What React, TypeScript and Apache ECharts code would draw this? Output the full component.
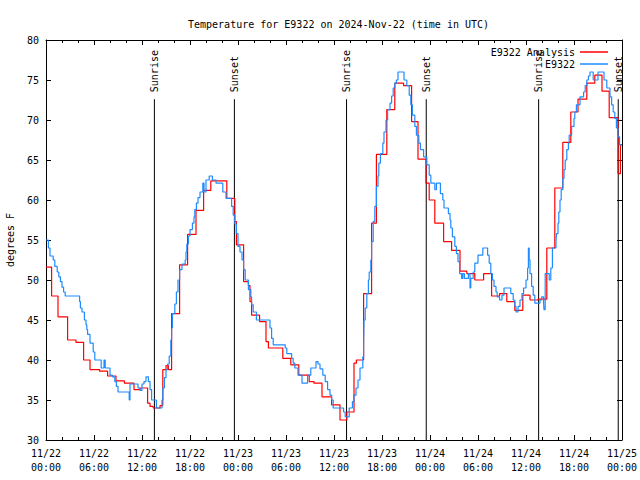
import React, { useEffect, useRef } from "react";
import * as echarts from "echarts";

const TITLE = "Temperature for E9322 on 2024-Nov-22 (time in UTC)";
const SERIES_NAMES = ["E9322 Analysis", "E9322"];
const X_TICK_LABELS = [
  "11/22\n00:00", "11/22\n06:00", "11/22\n12:00", "11/22\n18:00",
  "11/23\n00:00", "11/23\n06:00", "11/23\n12:00", "11/23\n18:00",
  "11/24\n00:00", "11/24\n06:00", "11/24\n12:00", "11/24\n18:00",
  "11/25\n00:00",
];
// hours since 11/22 00:00 UTC
const SUN_HOURS = [13.55, 23.55, 37.57, 47.53, 61.58, 71.53];
const SUN_LABELS = ["Sunrise", "Sunset", "Sunrise", "Sunset", "Sunrise", "Sunset"];

// [hour, degF] — value holds from that hour until the next point
const ANALYSIS: number[][] = [
  [0, 51.6], [0.7, 48.0], [1.5, 45.4], [2.7, 42.5], [3.75, 42.2], [4.7, 40.0],
  [5.5, 38.8], [6.7, 38.6], [7.7, 38.0], [8.75, 37.4], [9.8, 37.1], [11.0, 36.3],
  [11.75, 36.5], [12.7, 34.6], [13.0, 34.2], [13.4, 34.0], [14.25, 34.3], [14.6, 38.8],
  [15.0, 39.3], [15.3, 38.8], [15.7, 45.8], [16.7, 51.9], [17.7, 55.7], [18.75, 58.7],
  [19.7, 61.2], [20.6, 62.4], [22.6, 60.2], [23.6, 57.3], [23.8, 54.4], [24.7, 49.8],
  [25.3, 49.3], [25.5, 47.3], [25.7, 45.6], [26.7, 44.8], [27.5, 42.3], [27.8, 41.5],
  [29.6, 40.2], [30.6, 39.4], [31.6, 38.1], [32.9, 37.3], [33.5, 37.1], [34.5, 35.4],
  [35.7, 34.4], [36.75, 32.5], [37.6, 33.5], [38.5, 39.6], [38.8, 40.0], [39.7, 48.3],
  [40.7, 57.1], [41.3, 65.7], [42.6, 71.3], [43.6, 74.6], [44.7, 74.3], [45.7, 69.8],
  [46.5, 65.1], [47.5, 62.1], [47.9, 60.0], [48.6, 57.1], [49.7, 54.8], [50.7, 53.7],
  [51.75, 51.1], [52.6, 50.8], [53.6, 50.0], [54.7, 50.8], [55.7, 48.0], [56.7, 48.3],
  [57.6, 47.3], [58.6, 46.2], [59.6, 48.1], [60.5, 47.5], [61.5, 47.6], [62.6, 54.0],
  [63.6, 61.5], [64.6, 67.2], [65.6, 71.0], [66.5, 72.6], [67.6, 74.6], [68.6, 75.6],
  [69.5, 73.6], [70.4, 70.3], [71.5, 63.3], [71.8, 66.9], [72, 66.9],
];

const OBSERVED: number[][] = [
  [0, 55.0], [0.3, 54.0], [0.5, 53.0], [0.9, 52.5], [1.1, 51.7], [1.4, 51.0],
  [1.6, 50.4], [1.8, 49.8], [2.0, 49.1], [2.2, 48.5], [2.4, 48.0], [4.2, 47.3],
  [4.3, 46.5], [4.5, 46.0], [4.8, 45.0], [5.0, 44.4], [5.1, 43.8], [5.2, 43.2],
  [5.5, 42.1], [5.9, 41.0], [6.1, 40.0], [6.9, 39.0], [7.25, 40.0], [7.4, 39.0],
  [8.0, 38.1], [8.3, 37.9], [8.6, 37.3], [8.8, 36.7], [9.0, 36.0], [10.4, 35.0],
  [10.5, 37.0], [11.5, 36.5], [11.75, 36.2], [12.0, 37.0], [12.25, 37.3], [12.5, 37.9],
  [12.8, 37.3], [13.0, 36.3], [13.2, 35.0], [13.8, 34.0], [14.5, 35.0], [14.6, 36.5],
  [14.8, 37.8], [15.0, 38.8], [15.2, 39.5], [15.4, 40.5], [15.6, 42.5], [15.7, 44.0],
  [15.8, 45.8], [16.1, 47.0], [16.3, 48.5], [16.5, 50.0], [16.7, 51.3], [17.0, 52.0],
  [17.4, 52.5], [17.5, 53.5], [17.6, 54.5], [17.8, 55.5], [18.0, 56.3], [18.3, 57.1],
  [18.5, 57.9], [18.6, 58.8], [18.8, 59.6], [19.0, 60.3], [19.25, 61.0], [19.6, 62.1],
  [19.75, 61.0], [20.0, 62.5], [20.4, 63.0], [20.8, 62.5], [21.25, 62.1], [22.1, 61.0],
  [22.5, 60.2], [23.2, 59.2], [23.4, 58.1], [23.6, 57.0], [23.8, 55.8], [24.0, 54.2],
  [24.25, 53.5], [24.5, 52.5], [24.7, 51.3], [24.9, 50.0], [25.3, 48.8], [25.6, 47.9],
  [25.7, 46.9], [25.9, 46.0], [26.3, 45.0], [28.0, 44.0], [28.2, 42.7], [28.4, 41.9],
  [29.9, 41.5], [30.1, 40.8], [30.7, 40.2], [30.9, 39.6], [31.1, 39.0], [31.5, 38.1],
  [32.0, 37.1], [32.7, 38.1], [33.1, 39.0], [33.75, 39.8], [34.0, 39.5], [34.25, 38.9],
  [34.6, 38.1], [34.9, 37.3], [35.2, 36.3], [35.5, 35.6], [35.7, 35.0], [35.9, 34.0],
  [37.2, 33.5], [37.4, 32.9], [37.9, 34.0], [38.3, 34.8], [38.5, 35.6], [38.75, 36.5],
  [39.0, 37.5], [39.25, 39.0], [39.6, 40.4], [39.7, 41.9], [39.75, 45.0], [39.9, 46.5],
  [40.1, 48.3], [40.3, 50.0], [40.4, 51.0], [40.6, 52.5], [40.7, 54.8], [40.9, 57.3],
  [41.1, 59.2], [41.3, 61.7], [41.5, 63.0], [41.6, 64.6], [41.8, 65.8], [42.1, 67.1],
  [42.25, 68.5], [42.5, 70.0], [42.7, 71.3], [43.0, 72.1], [43.2, 73.0], [43.4, 74.0],
  [43.6, 74.6], [43.8, 75.0], [44.0, 76.0], [44.75, 75.0], [45.1, 74.3], [45.4, 73.1],
  [45.6, 71.9], [45.8, 70.6], [46.1, 69.2], [46.3, 68.1], [46.6, 67.1], [46.8, 66.3],
  [47.2, 65.4], [47.6, 64.4], [47.9, 63.1], [48.1, 62.1], [48.6, 61.3], [48.8, 62.1],
  [49.3, 60.8], [49.6, 60.0], [49.75, 59.0], [50.3, 58.3], [50.5, 57.5], [50.6, 56.5],
  [50.8, 55.4], [51.1, 54.2], [51.3, 53.3], [51.5, 52.3], [51.7, 50.8], [51.95, 50.2],
  [52.1, 50.8], [52.3, 50.2], [52.8, 50.8], [53.0, 49.0], [53.1, 50.2], [53.4, 51.0],
  [53.6, 52.1], [54.0, 53.1], [54.6, 54.0], [55.2, 53.1], [55.4, 52.1], [55.6, 50.8],
  [55.8, 50.0], [56.0, 49.2], [56.25, 48.5], [56.4, 47.9], [56.7, 47.5], [57.0, 48.1],
  [57.25, 49.0], [58.1, 48.3], [58.4, 47.5], [58.6, 46.7], [58.75, 46.0], [59.0, 46.7],
  [59.25, 47.5], [59.5, 48.3], [59.7, 49.0], [60.0, 50.0], [60.2, 51.5], [60.3, 54.0],
  [60.4, 52.5], [60.5, 50.8], [60.7, 49.2], [60.9, 48.1], [61.1, 47.1], [61.75, 47.5],
  [61.96, 47.9], [62.2, 47.1], [62.25, 46.3], [62.4, 50.8], [62.9, 50.0], [63.1, 51.5],
  [63.3, 54.0], [63.75, 54.8], [63.8, 55.8], [64.0, 57.1], [64.1, 58.5], [64.25, 60.0],
  [64.4, 61.3], [64.6, 62.7], [64.75, 63.8], [64.9, 65.0], [65.1, 66.3], [65.3, 67.1],
  [65.4, 68.1], [65.7, 69.2], [66.0, 70.2], [66.1, 71.0], [66.3, 71.9], [66.75, 72.9],
  [67.2, 73.5], [67.4, 74.3], [67.6, 75.0], [67.8, 75.5], [68.0, 76.0], [68.4, 75.0],
  [69.0, 76.0], [69.75, 75.0], [70.1, 74.0], [70.5, 72.9], [70.7, 71.9], [70.9, 71.0],
  [71.1, 70.2], [71.3, 69.0], [71.5, 67.9], [71.7, 66.9], [72, 66.9],
];

const FONT = "'DejaVu Sans Mono', monospace";
const SUN_LINE_TOP = 72.6;

export default function App() {
  const ref = useRef<HTMLDivElement>(null);
  useEffect(() => {
    if (!ref.current) return;
    const chart = echarts.init(ref.current, null, { renderer: "svg" });
    const tickCommon = {
      axisLine: { show: true, onZero: false, lineStyle: { color: "#000", width: 1 } },
      axisTick: { show: true, inside: true, length: 5, lineStyle: { color: "#000" } },
      splitLine: { show: false },
    };
    const xBase = {
      type: "value",
      min: 0,
      max: 72,
      interval: 6,
      ...tickCommon,
      minorTick: { show: true, splitNumber: 3, length: 3, lineStyle: { color: "#000" } },
    };
    const yBase = {
      type: "value",
      min: 30,
      max: 80,
      interval: 5,
      ...tickCommon,
    };
    chart.setOption({
      animation: false,
      backgroundColor: "#fff",
      title: {
        text: TITLE,
        left: 183,
        top: 14,
        textStyle: { fontFamily: FONT, fontSize: 10, fontWeight: "normal", color: "#000" },
      },
      legend: {
        data: SERIES_NAMES,
        orient: "vertical",
        right: 27,
        top: 42,
        align: "right",
        icon: "rect",
        itemWidth: 28,
        itemHeight: 1.5,
        itemGap: 2,
        textStyle: { fontFamily: FONT, fontSize: 10, color: "#000" },
      },
      grid: {
        left: 46,
        right: 18,
        top: 40,
        bottom: 40,
        containLabel: false,
        outerBoundsMode: "none",
      },
      xAxis: [
        {
          ...xBase,
          position: "bottom",
          axisLabel: {
            fontFamily: FONT,
            fontSize: 10,
            color: "#000",
            lineHeight: 14,
            margin: 6,
            formatter: (v: number) => X_TICK_LABELS[Math.round(v / 6)] ?? "",
          },
        },
        { ...xBase, position: "top", axisLabel: { show: false } },
      ],
      yAxis: [
        {
          ...yBase,
          position: "left",
          name: "degrees F",
          nameLocation: "middle",
          nameGap: 31,
          nameTextStyle: { fontFamily: FONT, fontSize: 10, color: "#000" },
          axisLabel: { fontFamily: FONT, fontSize: 10, color: "#000", margin: 7 },
        },
        { ...yBase, position: "right", axisLabel: { show: false } },
      ],
      series: [
        {
          name: SERIES_NAMES[0],
          type: "line",
          step: "end",
          data: ANALYSIS,
          showSymbol: false,
          color: "#ff0000",
          lineStyle: { color: "#ff0000", width: 1.2 },
          z: 3,
        },
        {
          name: SERIES_NAMES[1],
          type: "line",
          step: "end",
          data: OBSERVED,
          showSymbol: false,
          color: "#1e8cff",
          lineStyle: { color: "#1e8cff", width: 1.2 },
          z: 4,
        },
        {
          type: "custom",
          data: SUN_HOURS.map((h) => [h]),
          z: 2,
          renderItem: (params: any, api: any) => {
            const h = api.value(0);
            const top = api.coord([h, SUN_LINE_TOP]);
            const bot = api.coord([h, 30]);
            return {
              type: "group",
              children: [
                {
                  type: "line",
                  shape: { x1: top[0], y1: top[1], x2: bot[0], y2: bot[1] },
                  style: { stroke: "#000", lineWidth: 1 },
                },
                {
                  type: "text",
                  x: top[0],
                  y: top[1] - 7,
                  rotation: Math.PI / 2,
                  style: {
                    text: SUN_LABELS[params.dataIndex],
                    font: `10px ${FONT}`,
                    fill: "#000",
                    align: "left",
                    verticalAlign: "middle",
                  },
                },
              ],
            };
          },
        },
      ],
    });
    return () => chart.dispose();
  }, []);
  return (
    <div
      ref={ref}
      style={{ position: "fixed", left: 0, top: 0, width: 640, height: 480 }}
    />
  );
}
